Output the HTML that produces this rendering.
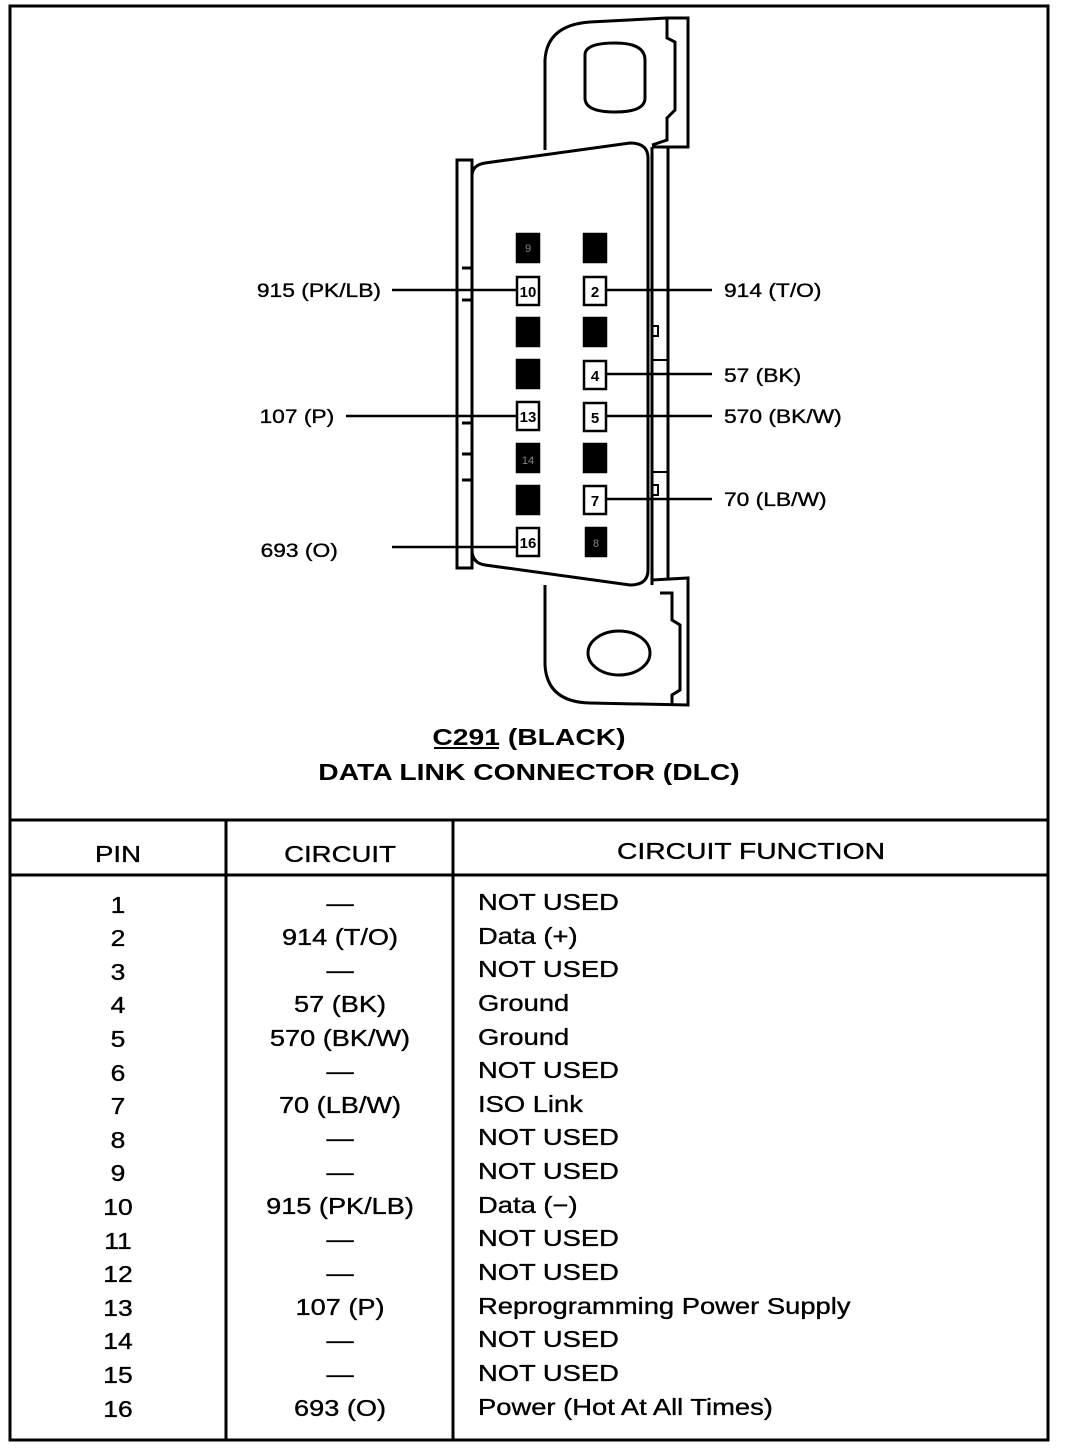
<!DOCTYPE html>
<html><head><meta charset="utf-8"><style>
html,body{margin:0;padding:0;background:#fff;}
svg{display:block;font-family:"Liberation Sans",Arial,sans-serif;}
.t text{stroke:#000;stroke-width:0.35;}
</style></head><body>
<svg width="1072" height="1448" viewBox="0 0 1072 1448" xmlns="http://www.w3.org/2000/svg">
<rect x="0" y="0" width="1072" height="1448" fill="#fff"/>
<rect x="10" y="6" width="1038" height="1434" fill="none" stroke="#000" stroke-width="3"/>
<g fill="none" stroke="#000" stroke-width="3">
<path d="M545,150 L545,60 Q547,25 590,22 L667,18 L688,18 L688,147 L652,147"/>
<path d="M667,18 L667,38 L675,42 L675,110 L667,118 L667,140 L652,145"/>
<path d="M585,55 Q585,43 615,43 Q645,43 645,60 L645,98 Q645,112 615,112 Q585,112 585,98 Z"/>
<rect x="457" y="160" width="15" height="408"/>
<line x1="668" y1="147" x2="668" y2="578"/>
<line x1="652" y1="147" x2="652" y2="585"/>
<path d="M485,163 L630,143 Q648,143 648,158 L648,570 Q648,585 630,585 L485,565 Q472,563 472,550 L472,176 Q472,165 485,163 Z"/>
<path d="M545,585 L545,665 Q547,702 590,703 L688,705 L688,578 L652,580"/>
<path d="M660,593 L672,593 L672,620 L680,625 L680,690 L672,695 L672,705"/>
<ellipse cx="619" cy="653" rx="31" ry="22"/>
<path d="M472,268 L462,268 M472,300 L462,300 M472,423 L462,423 M472,454 L462,454 M472,480 L462,480"/>
<rect x="652" y="326" width="6" height="10" stroke-width="2"/>
<rect x="652" y="485" width="6" height="10" stroke-width="2"/>
<line x1="652" y1="360" x2="668" y2="360" stroke-width="2"/>
<line x1="652" y1="472" x2="668" y2="472" stroke-width="2"/>
</g>
<g stroke="#000" stroke-width="2.5">
<rect x="517" y="234" width="22" height="28" fill="#000"/>
<rect x="584" y="234" width="22" height="28" fill="#000"/>
<rect x="517" y="277" width="22" height="28" fill="#fff"/>
<rect x="584" y="277" width="22" height="28" fill="#fff"/>
<rect x="517" y="318" width="22" height="28" fill="#000"/>
<rect x="584" y="318" width="22" height="28" fill="#000"/>
<rect x="517" y="360" width="22" height="28" fill="#000"/>
<rect x="584" y="361" width="22" height="28" fill="#fff"/>
<rect x="517" y="402" width="22" height="28" fill="#fff"/>
<rect x="584" y="403" width="22" height="28" fill="#fff"/>
<rect x="517" y="444" width="22" height="28" fill="#000"/>
<rect x="584" y="444" width="22" height="28" fill="#000"/>
<rect x="517" y="486" width="22" height="28" fill="#000"/>
<rect x="584" y="486" width="22" height="28" fill="#fff"/>
<rect x="517" y="528" width="22" height="28" fill="#fff"/>
<rect x="586" y="528" width="20" height="28" fill="#000"/>
</g>
<g font-size="15" font-weight="bold" text-anchor="middle">
<text x="528" y="297">10</text><text x="595" y="297">2</text>
<text x="595" y="381">4</text><text x="528" y="422">13</text>
<text x="595" y="423">5</text><text x="595" y="506">7</text>
<text x="528" y="548">16</text>
</g>
<g font-size="11" fill="#888" text-anchor="middle">
<text x="528" y="252">9</text><text x="528" y="464">14</text><text x="596" y="547">8</text>
</g>
<g stroke="#000" stroke-width="2.5">
<line x1="392" y1="290" x2="517" y2="290"/>
<line x1="346" y1="416" x2="517" y2="416"/>
<line x1="392" y1="547" x2="517" y2="547"/>
<line x1="606" y1="290" x2="712" y2="290"/>
<line x1="606" y1="374" x2="712" y2="374"/>
<line x1="606" y1="416" x2="712" y2="416"/>
<line x1="606" y1="499" x2="712" y2="499"/>
</g>
<g font-size="19" class="t">
<g transform="translate(381,0) scale(1.2,1)" text-anchor="end">
<text x="0" y="297">915 (PK/LB)</text>
<text x="-39" y="423">107 (P)</text>
<text x="-36" y="557">693 (O)</text>
</g>
<g transform="translate(724,0) scale(1.2,1)">
<text x="0" y="297">914 (T/O)</text>
<text x="0" y="382">57 (BK)</text>
<text x="0" y="423">570 (BK/W)</text>
<text x="0" y="506">70 (LB/W)</text>
</g>
</g>
<g font-size="23" font-weight="bold" text-anchor="middle" transform="translate(529,0) scale(1.23,1)">
<text x="0" y="745">C291 (BLACK)</text>
<text x="0" y="780">DATA LINK CONNECTOR (DLC)</text>
</g>
<line x1="434" y1="748" x2="499" y2="748" stroke="#000" stroke-width="2"/>
<g stroke="#000" stroke-width="3">
<line x1="10" y1="820" x2="1048" y2="820"/>
<line x1="10" y1="875" x2="1048" y2="875"/>
<line x1="226" y1="820" x2="226" y2="1440"/>
<line x1="453" y1="820" x2="453" y2="1440"/>
</g>
<g font-size="23" text-anchor="middle" class="t" style="stroke-width:0.7">
<g transform="translate(118,0) scale(1.2,1)"><text x="0" y="862">PIN</text></g>
<g transform="translate(340,0) scale(1.2,1)"><text x="0" y="862">CIRCUIT</text></g>
<g transform="translate(751,0) scale(1.23,1)"><text x="0" y="859">CIRCUIT FUNCTION</text></g>
</g>
<g font-size="23" text-anchor="middle" class="t" transform="translate(118,0) scale(1.15,1)">
<text x="0" y="913">1</text><text x="0" y="946">2</text><text x="0" y="980">3</text><text x="0" y="1013">4</text>
<text x="0" y="1047">5</text><text x="0" y="1081">6</text><text x="0" y="1114">7</text><text x="0" y="1148">8</text>
<text x="0" y="1181">9</text><text x="0" y="1215">10</text><text x="0" y="1249">11</text><text x="0" y="1282">12</text>
<text x="0" y="1316">13</text><text x="0" y="1349">14</text><text x="0" y="1383">15</text><text x="0" y="1417">16</text>
</g>
<g font-size="23" text-anchor="middle" class="t" transform="translate(340,0) scale(1.18,1)">
<text x="0" y="911">—</text><text x="0" y="945">914 (T/O)</text><text x="0" y="978">—</text>
<text x="0" y="1012">57 (BK)</text><text x="0" y="1046">570 (BK/W)</text><text x="0" y="1079">—</text>
<text x="0" y="1113">70 (LB/W)</text><text x="0" y="1146">—</text><text x="0" y="1180">—</text>
<text x="0" y="1214">915 (PK/LB)</text><text x="0" y="1247">—</text><text x="0" y="1281">—</text>
<text x="0" y="1315">107 (P)</text><text x="0" y="1348">—</text><text x="0" y="1382">—</text>
<text x="0" y="1416">693 (O)</text>
</g>
<g font-size="23" class="t" transform="translate(478,0) scale(1.19,1)">
<text x="0" y="910">NOT USED</text><text x="0" y="944">Data (+)</text><text x="0" y="977">NOT USED</text>
<text x="0" y="1011">Ground</text><text x="0" y="1045">Ground</text><text x="0" y="1078">NOT USED</text>
<text x="0" y="1112">ISO Link</text><text x="0" y="1145">NOT USED</text><text x="0" y="1179">NOT USED</text>
<text x="0" y="1213">Data (−)</text><text x="0" y="1246">NOT USED</text><text x="0" y="1280">NOT USED</text>
<text x="0" y="1314">Reprogramming Power Supply</text><text x="0" y="1347">NOT USED</text><text x="0" y="1381">NOT USED</text>
<text x="0" y="1415">Power (Hot At All Times)</text>
</g>
</svg>
</body></html>
